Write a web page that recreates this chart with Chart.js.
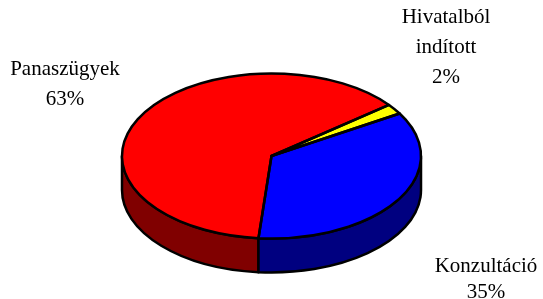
<!DOCTYPE html>
<html>
<head>
<meta charset="utf-8">
<script src="https://cdn.jsdelivr.net/npm/chart.js@4/dist/chart.umd.min.js"></script>
<style>
  body { margin: 0; background: #fff; }
  .chart-container { position: relative; width: 543px; height: 299px; }
</style>
</head>
<body>
<div class="chart-container">
  <canvas id="myChart"></canvas>
</div>
<script>
var categories = ['Panaszügyek', 'Hivatalból indított', 'Konzultáció'];
var values = [63, 2, 35];
var topColors = ['#ff0000', '#ffff00', '#0000ff'];
var sideColors = ['#800000', '#808000', '#000080'];

// fake 3d: squash the pie and draw the visible side wall under it
var pie3d = {
  id: 'pie3d',
  beforeDatasetsDraw(chart, args, opts) {
    var ctx = chart.ctx;
    var arcs = chart.getDatasetMeta(0).data;
    var cx = arcs[0].x, cy = arcs[0].y, r = arcs[0].outerRadius;
    var ry = r * opts.tilt;
    var top = cy + opts.shiftY;
    ctx.save();
    ctx.lineWidth = opts.lineWidth;
    ctx.lineJoin = 'round';
    ctx.strokeStyle = '#000';
    arcs.forEach(function (a, i) {
      for (var k = -1; k <= 2; k++) {
        var s = Math.max(a.startAngle, 2 * Math.PI * k);
        var e = Math.min(a.endAngle, 2 * Math.PI * k + Math.PI);
        if (e <= s) continue;
        ctx.beginPath();
        ctx.ellipse(cx, top, r, ry, 0, s, e);
        ctx.lineTo(cx + r * Math.cos(e), top + opts.depth + ry * Math.sin(e));
        ctx.ellipse(cx, top + opts.depth, r, ry, 0, e, s, true);
        ctx.closePath();
        ctx.fillStyle = sideColors[i];
        ctx.fill();
        ctx.stroke();
      }
    });
    ctx.restore();

    ctx.save();
    ctx.translate(0, top);
    ctx.scale(1, opts.tilt);
    ctx.translate(0, -cy);
  },
  afterDatasetsDraw(chart, args, opts) {
    var ctx = chart.ctx;
    ctx.restore();
    var arcs = chart.getDatasetMeta(0).data;
    var cx = arcs[0].x, cy = arcs[0].y, r = arcs[0].outerRadius;
    var ry = r * opts.tilt;
    var top = cy + opts.shiftY;
    ctx.save();
    ctx.lineWidth = opts.lineWidth;
    ctx.lineJoin = 'round';
    ctx.strokeStyle = '#000';
    arcs.forEach(function (a) {
      ctx.beginPath();
      ctx.moveTo(cx, top);
      ctx.lineTo(cx + r * Math.cos(a.startAngle), top + ry * Math.sin(a.startAngle));
      ctx.ellipse(cx, top, r, ry, 0, a.startAngle, a.endAngle);
      ctx.closePath();
      ctx.stroke();
    });

    // labels
    var total = values.reduce(function (p, v) { return p + v; }, 0);
    ctx.fillStyle = '#000';
    ctx.font = '21px "Liberation Serif"';
    ctx.textAlign = 'center';
    ctx.textBaseline = 'alphabetic';
    categories.forEach(function (c, i) {
      var lines = c.split(' ');
      lines.push(Math.round(values[i] / total * 100) + '%');
      var p = opts.labels[i];
      lines.forEach(function (t, j) {
        ctx.fillText(t, p.x, p.y + j * p.lh);
      });
    });
    ctx.restore();
  }
};

new Chart(document.getElementById('myChart'), {
  type: 'pie',
  data: {
    labels: categories,
    datasets: [{
      data: values,
      backgroundColor: topColors,
      borderWidth: 0,
      hoverOffset: 0
    }]
  },
  options: {
    responsive: true,
    maintainAspectRatio: false,
    animation: false,
    events: [],
    rotation: 185,
    plugins: {
      legend: { display: false },
      tooltip: { enabled: false },
      pie3d: {
        tilt: 0.552,
        depth: 34,
        shiftY: 6.5,
        lineWidth: 2.5,
        labels: [
          { x: 65, y: 75, lh: 30 },
          { x: 446, y: 23, lh: 30 },
          { x: 486, y: 272, lh: 26 }
        ]
      }
    }
  },
  plugins: [pie3d]
});
</script>
</body>
</html>
